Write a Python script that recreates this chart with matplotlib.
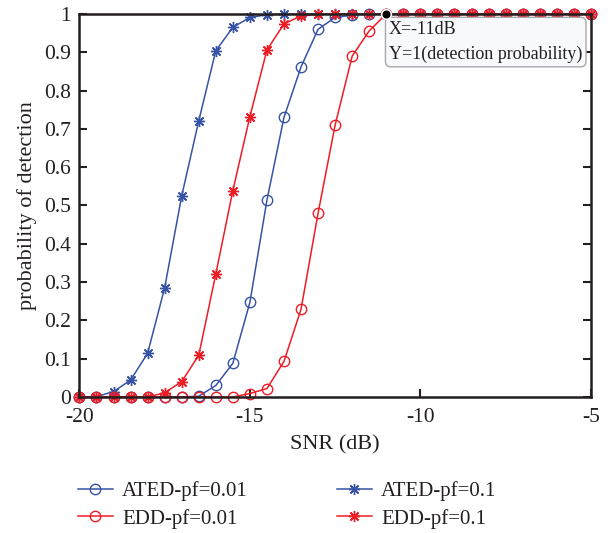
import matplotlib
matplotlib.use("Agg")
import matplotlib.pyplot as plt
from matplotlib.ticker import FixedLocator, FuncFormatter

plt.rcParams['font.family'] = ['Liberation Serif', 'DejaVu Serif']
plt.rcParams['axes.unicode_minus'] = False
plt.rcParams['text.color'] = '#231F20'
plt.rcParams['axes.labelcolor'] = '#231F20'
plt.rcParams['xtick.color'] = '#231F20'
plt.rcParams['ytick.color'] = '#231F20'

# SNR grid (dB)
snr = [-20, -19.5, -19, -18.5, -18, -17.5, -17, -16.5, -16, -15.5, -15,
       -14.5, -14, -13.5, -13, -12.5, -12, -11.5, -11, -10.5, -10,
       -9.5, -9, -8.5, -8, -7.5, -7, -6.5, -6, -5.5, -5]

# detection probability curves
ated_pf001 = [0, 0, 0, 0, 0, 0, 0, 0.002, 0.03, 0.088, 0.247,
              0.514, 0.730, 0.862, 0.960, 0.991, 0.997, 1, 1, 1, 1,
              1, 1, 1, 1, 1, 1, 1, 1, 1, 1]
ated_pf01 = [0, 0.001, 0.014, 0.044, 0.114, 0.285, 0.525, 0.721, 0.904, 0.965, 0.991,
             0.998, 1, 1, 1, 1, 1, 1, 1, 1, 1,
             1, 1, 1, 1, 1, 1, 1, 1, 1, 1]
edd_pf001 = [0, 0, 0, 0, 0, 0, 0, 0, 0, 0, 0.009,
             0.022, 0.093, 0.229, 0.48, 0.71, 0.89, 0.956, 1, 1, 1,
             1, 1, 1, 1, 1, 1, 1, 1, 1, 1]
edd_pf01 = [0, 0, 0, 0, 0, 0.011, 0.04, 0.109, 0.321, 0.539, 0.732,
            0.906, 0.974, 0.995, 0.999, 1, 1, 1, 1, 1, 1,
            1, 1, 1, 1, 1, 1, 1, 1, 1, 1]

labels = ['ATED-pf=0.01', 'ATED-pf=0.1', 'EDD-pf=0.01', 'EDD-pf=0.1']
xticks = [-20, -15, -10, -5]
yticks = [0, 0.1, 0.2, 0.3, 0.4, 0.5, 0.6, 0.7, 0.8, 0.9, 1]

tip_x, tip_y = -11, 1

blue = '#3653A5'
red = '#EE1C25'
asterisk = (8, 2, 0)

fig = plt.figure(figsize=(6.11, 5.33), dpi=100)
ax = fig.add_axes([0.130, 0.2552, 0.837, 0.7186])

common = dict(lw=1.1, mew=1.0, clip_on=False)
h1, = ax.plot(snr, ated_pf001, color=blue, marker='o', ms=7.5,
              mfc='none', mec=blue, label=labels[0], **common)
h2, = ax.plot(snr, ated_pf01, color=blue, marker=asterisk, ms=8,
              mec=blue, label=labels[1], **common)
h3, = ax.plot(snr, edd_pf001, color=red, marker='o', ms=7.5,
              mfc='none', mec=red, label=labels[2], **common)
h4, = ax.plot(snr, edd_pf01, color=red, marker=asterisk, ms=8,
              mec=red, label=labels[3], **common)

ax.set_xlim(-20, -5)
ax.set_ylim(0, 1)
ax.xaxis.set_major_locator(FixedLocator(xticks))
ax.yaxis.set_major_locator(FixedLocator(yticks))
ax.yaxis.set_major_formatter(FuncFormatter(lambda v, p: f'{v:g}'))
ax.tick_params(direction='in', length=6, width=1.5, labelsize=15.5,
               top=False, right=True)
ax.tick_params(axis='y', pad=6)
ax.tick_params(axis='x', pad=8)
for s in ax.spines.values():
    s.set_linewidth(1.8)
    s.set_color('#231F20')

ax.set_xlabel('SNR (dB)', fontsize=16, labelpad=6)
ax.set_ylabel('probability of detection', fontsize=16, labelpad=5)

# data tip
ax.plot([tip_x], [tip_y], marker='o', ms=7, mfc='black', mec='white',
        mew=1.2, zorder=6, clip_on=False)
ax.annotate(f'X={tip_x}dB\nY={tip_y}(detection probability)',
            xy=(tip_x, tip_y), xytext=(2, -5), textcoords='offset points',
            ha='left', va='top', fontsize=13, linespacing=1.6,
            zorder=5,
            bbox=dict(boxstyle='round,pad=0.2,rounding_size=0.3',
                      fc='#F8F9FC', ec='#A8A8A8', lw=1.0))

fig.legend(handles=[h1, h3, h2, h4], labels=[labels[0], labels[2], labels[1], labels[3]],
           ncol=2, loc='upper left', bbox_to_anchor=(0.128, 0.0975),
           frameon=False, fontsize=15, handlelength=1.65,
           handletextpad=0.45, columnspacing=4.3, labelspacing=0.38,
           borderaxespad=0, borderpad=0)

fig.savefig('out.png', dpi=100)
